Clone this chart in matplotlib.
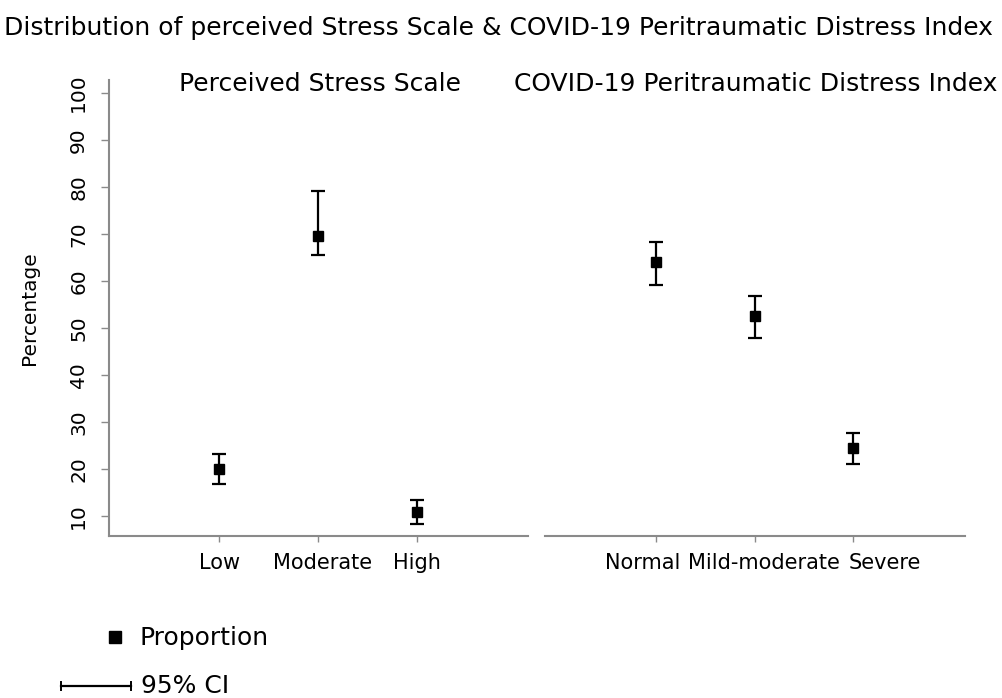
import matplotlib
matplotlib.use("Agg")
import matplotlib.pyplot as plt
from matplotlib.lines import Line2D
from matplotlib.transforms import ScaledTranslation

# ---- data ----
pss_categories = ["Low", "Moderate", "High"]
pss_prop = [20.0, 69.6, 10.8]
pss_lower = [16.8, 65.5, 8.3]
pss_upper = [23.2, 79.0, 13.4]

cpdi_categories = ["Normal", "Mild-moderate", "Severe"]
cpdi_prop = [64.0, 52.5, 24.5]
cpdi_lower = [59.1, 47.9, 21.1]
cpdi_upper = [68.3, 56.8, 27.5]

y_ticks = [10, 20, 30, 40, 50, 60, 70, 80, 90, 100]

title = "Distribution of perceived Stress Scale & COVID-19 Peritraumatic Distress Index"
panel_titles = ["Perceived Stress Scale", "COVID-19 Peritraumatic Distress Index"]

W, H = 1003, 698
fig = plt.figure(figsize=(W / 100, H / 100), dpi=100)
plt.rcParams['font.family'] = ['DejaVu Sans']

def fx(px):
    return px / W

def fy(py):
    return 1 - py / H

grey = "#8a8a8a"
ylim = (5.68, 102.7)
xlim = (-1.12, 3.13)

bottom = fy(536)
height = fy(80) - bottom
ax1 = fig.add_axes([fx(109), bottom, fx(528) - fx(109), height])
ax2 = fig.add_axes([fx(545), bottom, fx(965) - fx(545), height])

for ax, cats, p, lo, up in [(ax1, pss_categories, pss_prop, pss_lower, pss_upper),
                            (ax2, cpdi_categories, cpdi_prop, cpdi_lower, cpdi_upper)]:
    x = list(range(len(cats)))
    yerr = [[pi - li for pi, li in zip(p, lo)], [ui - pi for pi, ui in zip(p, up)]]
    ax.errorbar(x, p, yerr=yerr, fmt='s', color='black', ecolor='black',
                markersize=7.5, elinewidth=1.6, capsize=5, capthick=1.6)
    ax.set_xlim(xlim)
    ax.set_ylim(ylim)
    ax.set_xticks(x)
    ax.set_xticklabels(cats, fontsize=15)
    for s in ["top", "right"]:
        ax.spines[s].set_visible(False)
    ax.spines["bottom"].set_color(grey)
    ax.spines["bottom"].set_linewidth(1.5)
    ax.tick_params(axis='x', length=4, color=grey, width=1, pad=8)
    ax.set_facecolor("white")

# label offsets (pixels) to mimic the crowded label placement
offsets1 = [0, 5, 0]
for lab, dx in zip(ax1.get_xticklabels(), offsets1):
    lab.set_transform(lab.get_transform() + ScaledTranslation(dx / 100, 0, fig.dpi_scale_trans))
offsets2 = [-13, 9, 31]
for lab, dx in zip(ax2.get_xticklabels(), offsets2):
    lab.set_transform(lab.get_transform() + ScaledTranslation(dx / 100, 0, fig.dpi_scale_trans))

ax1.spines["left"].set_color(grey)
ax1.spines["left"].set_linewidth(1.5)
ax1.set_yticks(y_ticks)
ax1.set_yticklabels([str(t) for t in y_ticks], rotation=90, va='center', fontsize=14.5)
ax1.tick_params(axis='y', length=6, color=grey, width=1, pad=9)
ax1.set_ylabel("Percentage", fontsize=14.5, labelpad=22)

ax2.spines["left"].set_visible(False)
ax2.set_yticks([])

# titles
fig.text(fx(4), fy(28), title, fontsize=18, ha='left', va='center')
fig.text(fx(320), fy(84), panel_titles[0], fontsize=18, ha='center', va='center')
fig.text(fx(756), fy(84), panel_titles[1], fontsize=18, ha='center', va='center')

# legend (manual)
fig.add_artist(Line2D([fx(115)], [fy(637)], marker='s', color='black',
                      markersize=8, linestyle='none', transform=fig.transFigure))
fig.text(fx(140), fy(638), "Proportion", fontsize=18, ha='left', va='center')
fig.add_artist(Line2D([fx(61), fx(131)], [fy(686), fy(686)], color='black',
                      linewidth=1.6, transform=fig.transFigure))
for xc in (61, 131):
    fig.add_artist(Line2D([fx(xc), fx(xc)], [fy(682), fy(690)], color='black',
                          linewidth=1.4, transform=fig.transFigure))
fig.text(fx(141), fy(686), "95% CI", fontsize=18, ha='left', va='center')

fig.savefig("out.png", dpi=100, facecolor="white")
